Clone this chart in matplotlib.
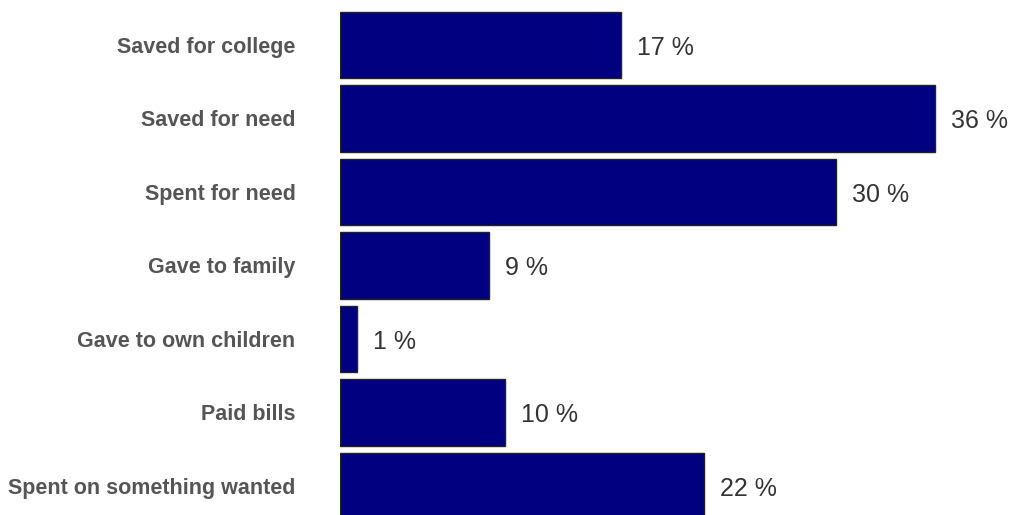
import matplotlib.pyplot as plt
import numpy as np

# Data
categories = ["Saved for college", "Saved for need", "Spent for need",
              "Gave to family", "Gave to own children", "Paid bills",
              "Spent on something wanted"]
percent = [17, 36, 30, 9, 1, 10, 22]

plt.rcParams['font.family'] = ['Liberation Sans', 'DejaVu Sans']

fig = plt.figure(figsize=(10.11, 5.15), dpi=100)
ax = fig.add_axes([340 / 1011, 0, 1 - 340 / 1011, 1])

y = np.arange(len(categories))
ax.barh(y, percent, height=0.906, color='#000080', edgecolor='#222222',
        linewidth=1.0)

# Axis ranges: bars start at the left edge, last bar runs off the bottom
ax.set_xlim(0, (1011 - 340) / 16.53)
ax.set_ylim(6.395, -0.612)

ax.set_yticks(y)
ax.set_yticklabels(categories, fontsize=15.5, fontweight='bold',
                   color='#555555')
ax.tick_params(axis='y', length=0, pad=32)
ax.set_xticks([])

for side in ax.spines.values():
    side.set_visible(False)

# Value labels
for yi, v in zip(y, percent):
    ax.annotate(f"{v} %", (v, yi), xytext=(11.5, -2), textcoords='offset points',
                va='center', ha='left', fontsize=18, color='#333333')

fig.savefig('out.png', dpi=100)
